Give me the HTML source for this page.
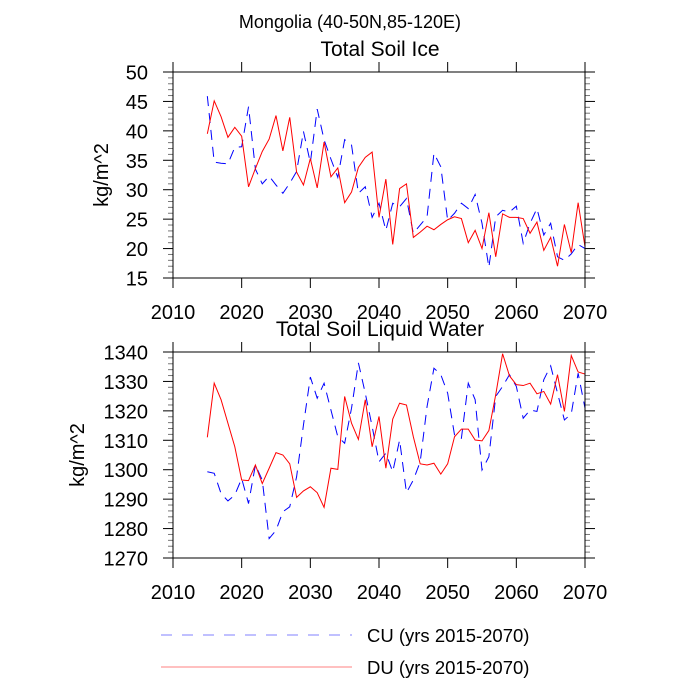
<!DOCTYPE html>
<html><head><meta charset="utf-8"><style>
body{margin:0;background:#fff}
svg{display:block;font-family:"Liberation Sans",sans-serif}
</style></head><body>
<svg id="chart" width="700" height="700" viewBox="0 0 700 700" xmlns="http://www.w3.org/2000/svg">
<text x="350" y="28" font-size="18" text-anchor="middle">Mongolia (40-50N,85-120E)</text>
<g id="p1"></g>
<g id="p2"></g>
<g>
<line x1="161" y1="635" x2="352" y2="635" stroke="#8080ff" stroke-width="1" stroke-dasharray="11,10"/>
<text x="367" y="642" font-size="18.5">CU (yrs 2015-2070)</text>
<line x1="161" y1="667" x2="352" y2="667" stroke="#ff8080" stroke-width="1"/>
<text x="367" y="674" font-size="18.5">DU (yrs 2015-2070)</text>
</g>
</svg>
<script>
const years=[];for(let y=2015;y<=2070;y++)years.push(y);
const xTicks=[2010,2020,2030,2040,2050,2060,2070];
const iceTicks=[15,20,25,30,35,40,45,50];
const liqTicks=[1270,1280,1290,1300,1310,1320,1330,1340];
const iceDU=[39.5,45.1,42.4,38.9,40.6,39.1,30.5,33.6,36.5,38.6,42.6,36.6,42.3,33.0,30.8,35.3,30.3,38.1,32.2,33.7,27.8,29.6,33.8,35.5,36.4,25.3,31.8,20.7,30.2,31.0,21.9,22.8,23.8,23.2,24.1,24.9,25.4,25.1,21.0,23.1,20.0,26.1,18.6,25.9,25.3,25.3,25.1,22.6,24.5,19.7,21.9,17.0,24.1,19.3,27.8,20.3];
const iceCU=[45.9,34.7,34.5,34.4,37.2,37.3,44.1,33.5,31.0,32.3,30.8,29.4,31.1,33.1,39.9,34.6,43.7,38.5,35.2,32.1,38.5,37.6,29.4,30.5,25.3,27.7,23.1,27.7,27.1,28.5,22.6,24.0,25.4,36.2,33.9,24.8,26.0,27.7,26.8,29.2,24.3,16.8,25.4,26.5,26.2,27.2,20.9,24.3,26.8,22.3,24.3,18.6,18.0,19.1,20.7,20.0];
const liqDU=[1311,1329.4,1323.8,1315.8,1307.8,1296.5,1296.3,1301.6,1295.3,1300.5,1305.8,1305,1302,1290.6,1292.8,1294.2,1292.2,1287.2,1300.5,1300.1,1324.9,1315.8,1310.3,1323.8,1307.8,1318.1,1300.5,1317.2,1322.6,1322,1311.2,1302,1301.6,1302.2,1298.5,1302,1311.2,1313.8,1313.8,1310.1,1309.8,1313.3,1325.5,1339.4,1331.9,1328.9,1328.6,1329.4,1325.8,1326.6,1322.3,1332.3,1319.8,1338.8,1333.2,1332.5];
const liqCU=[1299.3,1298.8,1291.9,1289.4,1291.4,1297,1288.5,1301.6,1296.5,1276.6,1279.4,1285.7,1287.4,1297.6,1315.2,1331.5,1324.3,1329.4,1320.3,1311.2,1309,1320.9,1336.3,1326,1314.7,1302.7,1305.6,1299.3,1310.1,1292.2,1296.5,1302.7,1321.5,1334.5,1332.3,1326,1311.8,1310.7,1329.4,1323.8,1299.9,1304.4,1324.9,1328.3,1332.3,1328.3,1317.5,1320.3,1319.8,1330.6,1335.3,1326,1316.9,1319,1332.8,1320.9];
const NS='http://www.w3.org/2000/svg';
function mk(tag,attrs,parent){const e=document.createElementNS(NS,tag);for(const k in attrs)e.setAttribute(k,attrs[k]);parent.appendChild(e);return e;}
function panel(g,top,title,yt,cu,du,ytitleX){
  const L=173,R=585,T=top,B=top+206;
  const ymin=yt[0],ymax=yt[yt.length-1];
  const sx=v=>L+(v-2010)/60*(R-L);
  const sy=v=>B-(v-ymin)/(ymax-ymin)*(B-T);
  const step=(yt[1]-yt[0])/5;
  let t=mk('text',{x:380,y:T-16,'font-size':21,'text-anchor':'middle'},g);
  
  
  t.textContent=title;
  for(const xv of xTicks){
    const x=sx(xv);
    let l=mk('line',{x1:x,y1:B,x2:x,y2:B+10,stroke:'#000'},g);
    
    
    l=mk('line',{x1:x,y1:T,x2:x,y2:T-10,stroke:'#000'},g);
    
    
    const tx=mk('text',{x:x,y:B+41,'font-size':20,'text-anchor':'middle'},g);
    
    
    tx.textContent=xv;
  }
  for(let v=ymin;v<=ymax+1e-9;v+=step){
    const y=sy(v);const major=Math.abs((v-ymin)/(yt[1]-yt[0])-Math.round((v-ymin)/(yt[1]-yt[0])))<1e-6;
    const len=major?10:5;
    let l=mk('line',{x1:L,y1:y,x2:L-len,y2:y,stroke:major?'#000':'#777'},g);
    
    
    l=mk('line',{x1:R,y1:y,x2:R+len,y2:y,stroke:major?'#000':'#777'},g);
    
    
  }
  for(const v of yt){
    const tx=mk('text',{x:148,y:sy(v)+7.5,'font-size':20,'text-anchor':'end'},g);
    
    
    tx.textContent=v;
  }
  const yt2=mk('text',{transform:`translate(${ytitleX},${(T+B)/2}) rotate(-90)`,'font-size':20,'text-anchor':'middle'},g);
  
  
  yt2.textContent='kg/m^2';
  const pc=mk('polyline',{points:years.map((y,i)=>sx(y)+','+sy(cu[i])).join(' '),fill:'none',stroke:'#0000ff','stroke-width':1,'stroke-dasharray':'10,7'},g);
  
  
  const pd=mk('polyline',{points:years.map((y,i)=>sx(y)+','+sy(du[i])).join(' '),fill:'none',stroke:'#ff0000','stroke-width':1},g);
  
  
  const fr=mk('rect',{x:L,y:T,width:R-L,height:B-T,fill:'none',stroke:'#000','stroke-width':1},g);
  
  
}
panel(document.getElementById('p1'),72,'Total Soil Ice',iceTicks,iceCU,iceDU,108);
panel(document.getElementById('p2'),352,'Total Soil Liquid Water',liqTicks,liqCU,liqDU,84);
</script>
</body></html>
